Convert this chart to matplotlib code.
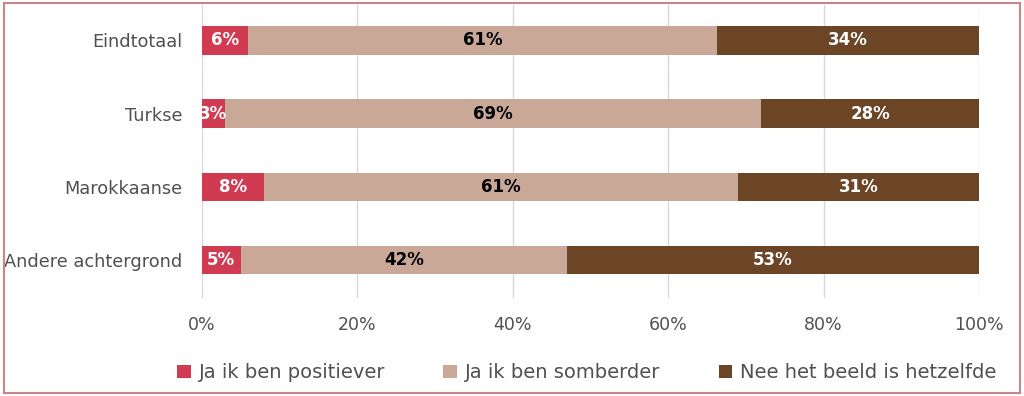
import numpy as np
import matplotlib.pyplot as plt
from matplotlib.patches import Rectangle

categories = ["Eindtotaal", "Turkse", "Marokkaanse", "Andere achtergrond"]
positief = [6, 3, 8, 5]
somberder = [61, 69, 61, 42]
hetzelfde = [34, 28, 31, 53]
series_names = ["Ja ik ben positiever", "Ja ik ben somberder", "Nee het beeld is hetzelfde"]
colors = ["#d13b52", "#c9a898", "#6b4526"]
text_colors = ["white", "black", "white"]

fig = plt.figure(figsize=(10.24, 3.96), dpi=100)
ax = fig.add_axes([0.197, 0.247, 0.759, 0.740])

data = np.array([positief, somberder, hetzelfde], dtype=float)
shares = data / data.sum(axis=0) * 100
y = np.arange(len(categories))[::-1]
left = np.zeros(len(categories))
for i, name in enumerate(series_names):
    ax.barh(y, shares[i], left=left, height=0.39, color=colors[i], label=name, zorder=3)
    for j in range(len(categories)):
        ax.text(left[j] + shares[i][j] / 2, y[j], f"{int(data[i][j])}%", ha="center", va="center",
                color=text_colors[i], fontsize=12, fontweight="bold", zorder=4)
    left += shares[i]

ax.set_xlim(0, 100)
ax.set_ylim(-0.52, 3.48)
ax.set_xticks(np.arange(0, 101, 20))
ax.set_xticklabels([f"{v}%" for v in range(0, 101, 20)])
ax.set_yticks(y)
ax.set_yticklabels(categories)
ax.grid(axis="x", color="#d9d9d9", linewidth=1, zorder=0)
for s in ax.spines.values():
    s.set_visible(False)
ax.tick_params(length=0, labelsize=12.5, colors="#505050")
ax.tick_params(axis="y", labelsize=12.8, pad=14)
ax.tick_params(axis="x", pad=13)

fig.legend(loc="lower center", bbox_to_anchor=(0.573, -0.01), ncol=3, frameon=False,
           fontsize=14, labelcolor="#505050", handlelength=0.7, handleheight=0.7,
           handletextpad=0.4, columnspacing=3.0)

fig.patches.append(Rectangle((0.004, 0.008), 0.992, 0.984, transform=fig.transFigure,
                             fill=False, edgecolor="#c8868a", linewidth=1.5))

fig.savefig("out.png", dpi=100)
